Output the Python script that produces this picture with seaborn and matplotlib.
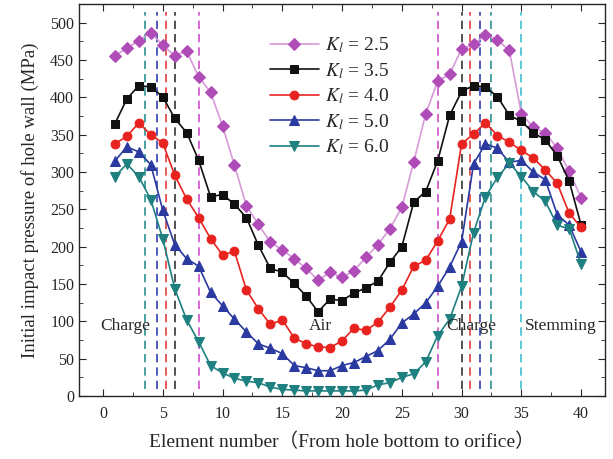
import numpy as np
import pandas as pd
import seaborn as sns
import matplotlib.pyplot as plt
from matplotlib.ticker import MultipleLocator

elements = list(range(1, 41))

p_k25 = [456, 466, 476, 487, 470, 456, 462, 428, 407, 362,
         309, 255, 230, 206, 196, 184, 171, 155, 166, 159,
         168, 186, 203, 224, 253, 314, 378, 422, 431, 465,
         471, 484, 477, 463, 378, 360, 353, 332, 301, 266]
p_k35 = [365, 398, 416, 414, 401, 372, 353, 316, 267, 270,
         257, 239, 202, 171, 166, 151, 134, 113, 130, 128,
         138, 145, 154, 179, 200, 260, 274, 315, 376, 408,
         416, 414, 401, 376, 368, 353, 343, 322, 288, 229]
p_k40 = [338, 348, 366, 350, 339, 296, 264, 239, 211, 189,
         194, 142, 117, 96, 102, 78, 70, 66, 65, 74,
         91, 88, 99, 119, 142, 174, 182, 208, 237, 338,
         351, 366, 349, 340, 329, 319, 303, 285, 245, 226]
p_k50 = [315, 334, 327, 310, 249, 203, 184, 174, 139, 121,
         103, 86, 70, 64, 57, 41, 38, 34, 34, 41,
         45, 53, 61, 76, 98, 110, 125, 147, 173, 207,
         311, 338, 332, 313, 316, 300, 290, 243, 229, 193]
p_k60 = [294, 311, 294, 263, 211, 144, 102, 73, 41, 31,
         24, 20, 18, 12, 9, 8, 7, 7, 7, 7,
         7, 8, 15, 18, 25, 30, 46, 81, 103, 147,
         219, 267, 293, 312, 294, 274, 261, 229, 224, 177]

labels = [r'$K_l$ = 2.5', r'$K_l$ = 3.5', r'$K_l$ = 4.0', r'$K_l$ = 5.0', r'$K_l$ = 6.0']
series = [p_k25, p_k35, p_k40, p_k50, p_k60]

# charge boundaries (left / right) for each Kl
bound_left = [8, 6, 5.3, 4.5, 3.5]
bound_right = [28, 30, 30.7, 31.5, 32.5]
stemming_x = 35

line_colors = ['#d89ad8', '#111111', '#e8231f', '#2b3aa0', '#1f8080']
marker_colors = ['#b04cb8', '#111111', '#e8231f', '#2b3aa0', '#1f8080']
dash_colors = ['#d050c8', '#333333', '#e04040', '#3040b0', '#2a9090']
markers = ['D', 's', 'o', '^', 'v']
msizes = [5.8, 5.5, 6.3, 6.5, 6.5]

sns.set_style('ticks')
plt.rcParams['font.family'] = ['Liberation Serif', 'Noto Sans CJK SC']
plt.rcParams['mathtext.fontset'] = 'stix'

fig = plt.figure(figsize=(6.13, 4.59), dpi=100)
ax = fig.add_axes([0.129, 0.137, 0.858, 0.854])

for i in range(5):
    ax.vlines([bound_left[i], bound_right[i]], 10, 515, colors=dash_colors[i],
              linestyles=(0, (5, 3)), linewidth=1.2, zorder=1)
ax.vlines(stemming_x, 10, 515, colors='#40c0d0', linestyles=(0, (5, 3)), linewidth=1.2, zorder=1)

for i in range(5):
    sns.lineplot(x=elements, y=series[i], ax=ax, color=line_colors[i], linewidth=1.2,
                 marker=markers[i], markersize=msizes[i], markerfacecolor=marker_colors[i],
                 markeredgecolor=marker_colors[i], label=labels[i], zorder=3)

ax.set_xlim(-2, 42)
ax.set_ylim(0, 525)
ax.xaxis.set_major_locator(MultipleLocator(5))
ax.xaxis.set_minor_locator(MultipleLocator(2.5))
ax.yaxis.set_major_locator(MultipleLocator(50))
ax.yaxis.set_minor_locator(MultipleLocator(25))
ax.tick_params(which='both', direction='in', top=True, right=True, labelsize=11.5)
ax.tick_params(which='major', length=5)
ax.tick_params(which='minor', length=3)
ax.tick_params(axis='x', pad=7)
for s in ax.spines.values():
    s.set_linewidth(1.0)

ax.set_xlabel('Element number（From hole bottom to orifice）', fontsize=14, labelpad=8)
ax.set_ylabel('Initial impact pressure of hole wall (MPa)', fontsize=13.5, labelpad=8)

ax.text(1.9, 94, 'Charge', fontsize=12.5, ha='center', va='center')
ax.text(18.2, 94, 'Air', fontsize=12.5, ha='center', va='center')
ax.text(30.8, 94, 'Charge', fontsize=12.5, ha='center', va='center')
ax.text(38.3, 94, 'Stemming', fontsize=12.5, ha='center', va='center')

ax.legend(loc='upper left', bbox_to_anchor=(0.33, 0.965), frameon=False, fontsize=14,
          handlelength=2.5, labelspacing=0.3, handletextpad=0.3)

plt.savefig('out.png', dpi=100)
